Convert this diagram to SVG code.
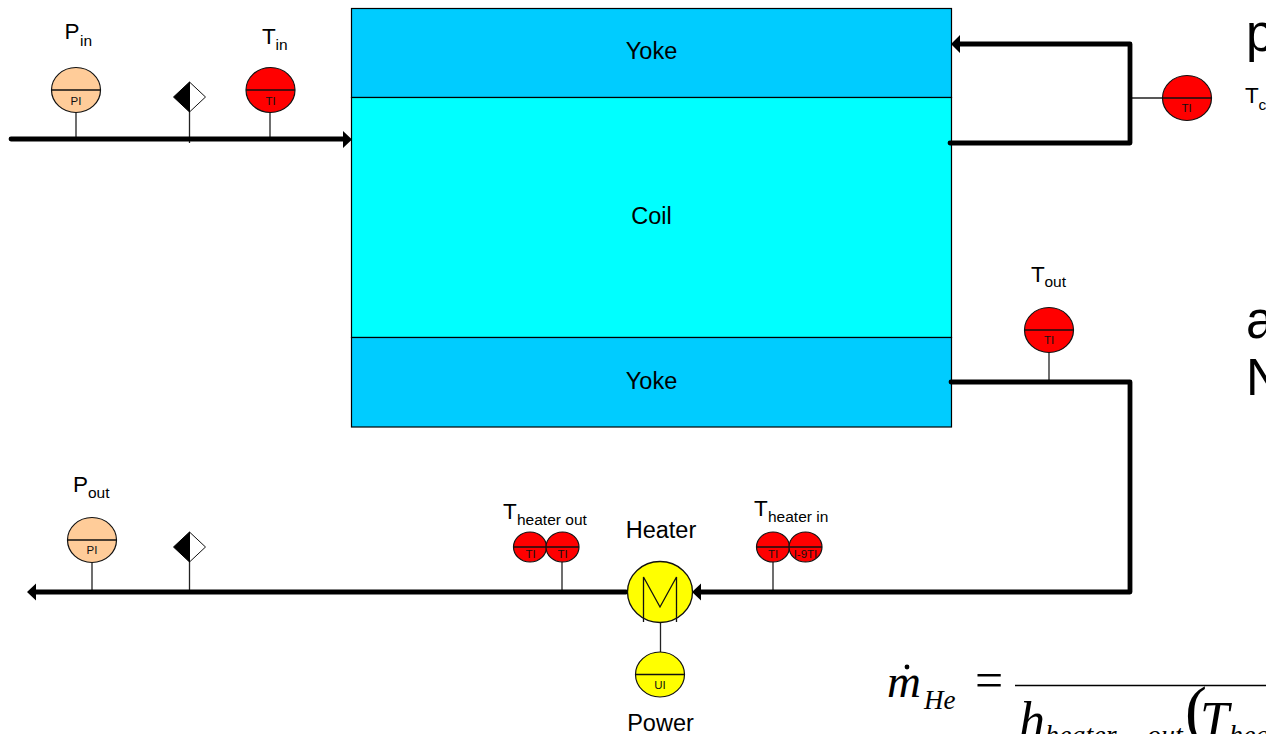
<svg xmlns="http://www.w3.org/2000/svg" width="1266" height="734" viewBox="0 0 1266 734">
<style>
text{font-family:"Liberation Sans",Arial,sans-serif;fill:#000}
.m{text-anchor:middle;font-size:23.500px}
.lab{font-size:22.500px}
.sub{font-size:15.500px}
.tag{font-size:11.500px;text-anchor:middle;fill:#111}
.big{font-size:51px}
.f{font-family:"Liberation Serif","Times New Roman",serif;font-style:italic}
.s{font-family:"Liberation Serif","Times New Roman",serif}
.pipe{fill:none;stroke:#000;stroke-width:4.800;stroke-linecap:round;stroke-linejoin:round}
.thin{fill:none;stroke:#222;stroke-width:1.300}
.ci{stroke:#111;stroke-width:1.200}
.bar{stroke:#111;stroke-width:1.600}
</style>
<defs>
<g id="inst"><ellipse class="ci" cx="0" cy="0" rx="24.500" ry="22.500"/><line class="bar" x1="-24.500" x2="24.500" y1="0" y2="0"/></g>
<g id="small"><ellipse class="ci" cx="0" cy="0" rx="16.500" ry="15"/><line class="bar" x1="-16.500" x2="16.500" y1="0" y2="0"/></g>
<g id="valve"><path d="M0 0L16 15L0 30Z" fill="#fff" stroke="#111"/><path d="M0 0L-16 15L0 30Z" fill="#000" stroke="#000"/></g>
</defs>
<g id="yoke-top"><rect x="351.500" y="8.500" width="600" height="89" fill="#0cf" stroke="#000" stroke-width="1.200"/><text x="651.500" y="59" class="m">Yoke</text></g>
<g id="coil"><rect x="351.500" y="97.500" width="600" height="240" fill="#0ff" stroke="#000" stroke-width="1.200"/><text x="651.500" y="224" class="m">Coil</text></g>
<g id="yoke-bottom"><rect x="351.500" y="337.500" width="600" height="89.500" fill="#0cf" stroke="#000" stroke-width="1.200"/><text x="651.500" y="389" class="m">Yoke</text></g>

<g id="connectors">
<path class="thin" d="M76 112V139M270 112V139M189.500 112V143M1132 98H1163M1049 352V382M92 562V592M189.500 562V592M562 562V592M773 562V592M660.500 622V652"/>
<path class="pipe" d="M11 139H344M950 143H1130V44H960M951 382H1130V592H700M626 592H36"/>
<path d="M352 139.500L343 131V148Z M951 44L960 35V53Z M27 592L36 583.500V600.500Z M692 592L701 583.500V600.500Z"/>
</g>

<g id="p-in"><text x="64.500" y="39" class="lab">P</text><text x="80" y="46" class="sub">in</text><use href="#inst" x="76" y="90" fill="#fc9"/><text x="76" y="105" class="tag">PI</text></g>
<g id="valve-in"><use href="#valve" x="189.500" y="82"/></g>
<g id="t-in"><text x="262" y="44" class="lab">T</text><text x="275.500" y="49.500" class="sub">in</text><use href="#inst" x="270.500" y="90" fill="#f00"/><text x="270.500" y="105" class="tag">TI</text></g>
<g id="t-c"><use href="#inst" x="1187" y="98" fill="#f00"/><text x="1186.500" y="112" class="tag">TI</text><text x="1245" y="103" class="lab">T</text><text x="1258.500" y="110" class="sub">c</text></g>
<g id="t-out"><text x="1031" y="282" class="lab">T</text><text x="1044.500" y="287" class="sub">out</text><use href="#inst" x="1049" y="330" fill="#f00"/><text x="1049" y="344" class="tag">TI</text></g>
<g id="p-out"><text x="73" y="492" class="lab">P</text><text x="88" y="497.500" class="sub">out</text><use href="#inst" x="92" y="540" fill="#fc9"/><text x="92" y="554" class="tag">PI</text></g>
<g id="valve-out"><use href="#valve" x="189.500" y="532"/></g>
<g id="t-heater-out"><text x="503" y="519" class="lab">T</text><text x="517" y="525" class="sub">heater out</text><use href="#small" x="530" y="547" fill="#f00"/><use href="#small" x="562.500" y="547" fill="#f00"/><text x="530.500" y="558" class="tag">TI</text><text x="562.500" y="558" class="tag">TI</text></g>
<g id="t-heater-in"><text x="754" y="516" class="lab">T</text><text x="768" y="522" class="sub">heater in</text><use href="#small" x="773" y="547" fill="#f00"/><use href="#small" x="805.500" y="547" fill="#f00"/><text x="773" y="558" class="tag">TI</text><text x="805.500" y="558" class="tag" font-size="12">I-9TI</text></g>
<g id="heater"><text x="661" y="538" class="m">Heater</text><ellipse cx="660" cy="592" rx="32.500" ry="30.500" fill="#ff0" stroke="#111" stroke-width="1.300"/><path d="M643.500 622V577L660 607L676.500 577V622" fill="none" stroke="#111" stroke-width="1.300"/></g>
<g id="power"><use href="#inst" x="660" y="674.500" fill="#ff0"/><text x="660" y="689" class="tag">UI</text><text x="660.500" y="731" class="m">Power</text></g>

<g id="cropped-text"><text x="1246" y="51" class="big">p</text><text x="1246" y="338" class="big">a</text><text x="1246" y="395" class="big">N</text></g>
<g id="formula">
<text x="887" y="697" class="f" font-size="47">m</text><circle cx="907" cy="667" r="2.400"/>
<text x="924" y="709" class="f" font-size="27">He</text>
<text x="975" y="697" class="s" font-size="50">=</text>
<line x1="1015" x2="1266" y1="685.500" y2="685.500" stroke="#000" stroke-width="1.600"/>
<text x="1019" y="738" class="f" font-size="52">h</text>
<text x="1045" y="744" class="f" font-size="28">heater</text>
<text x="1147" y="744" class="f" font-size="28">out</text>
<text x="1185" y="732" class="s" font-size="66">(</text>
<text x="1200" y="738" class="f" font-size="52">T</text>
<text x="1229" y="744" class="f" font-size="28">heater</text>
</g>
</svg>
